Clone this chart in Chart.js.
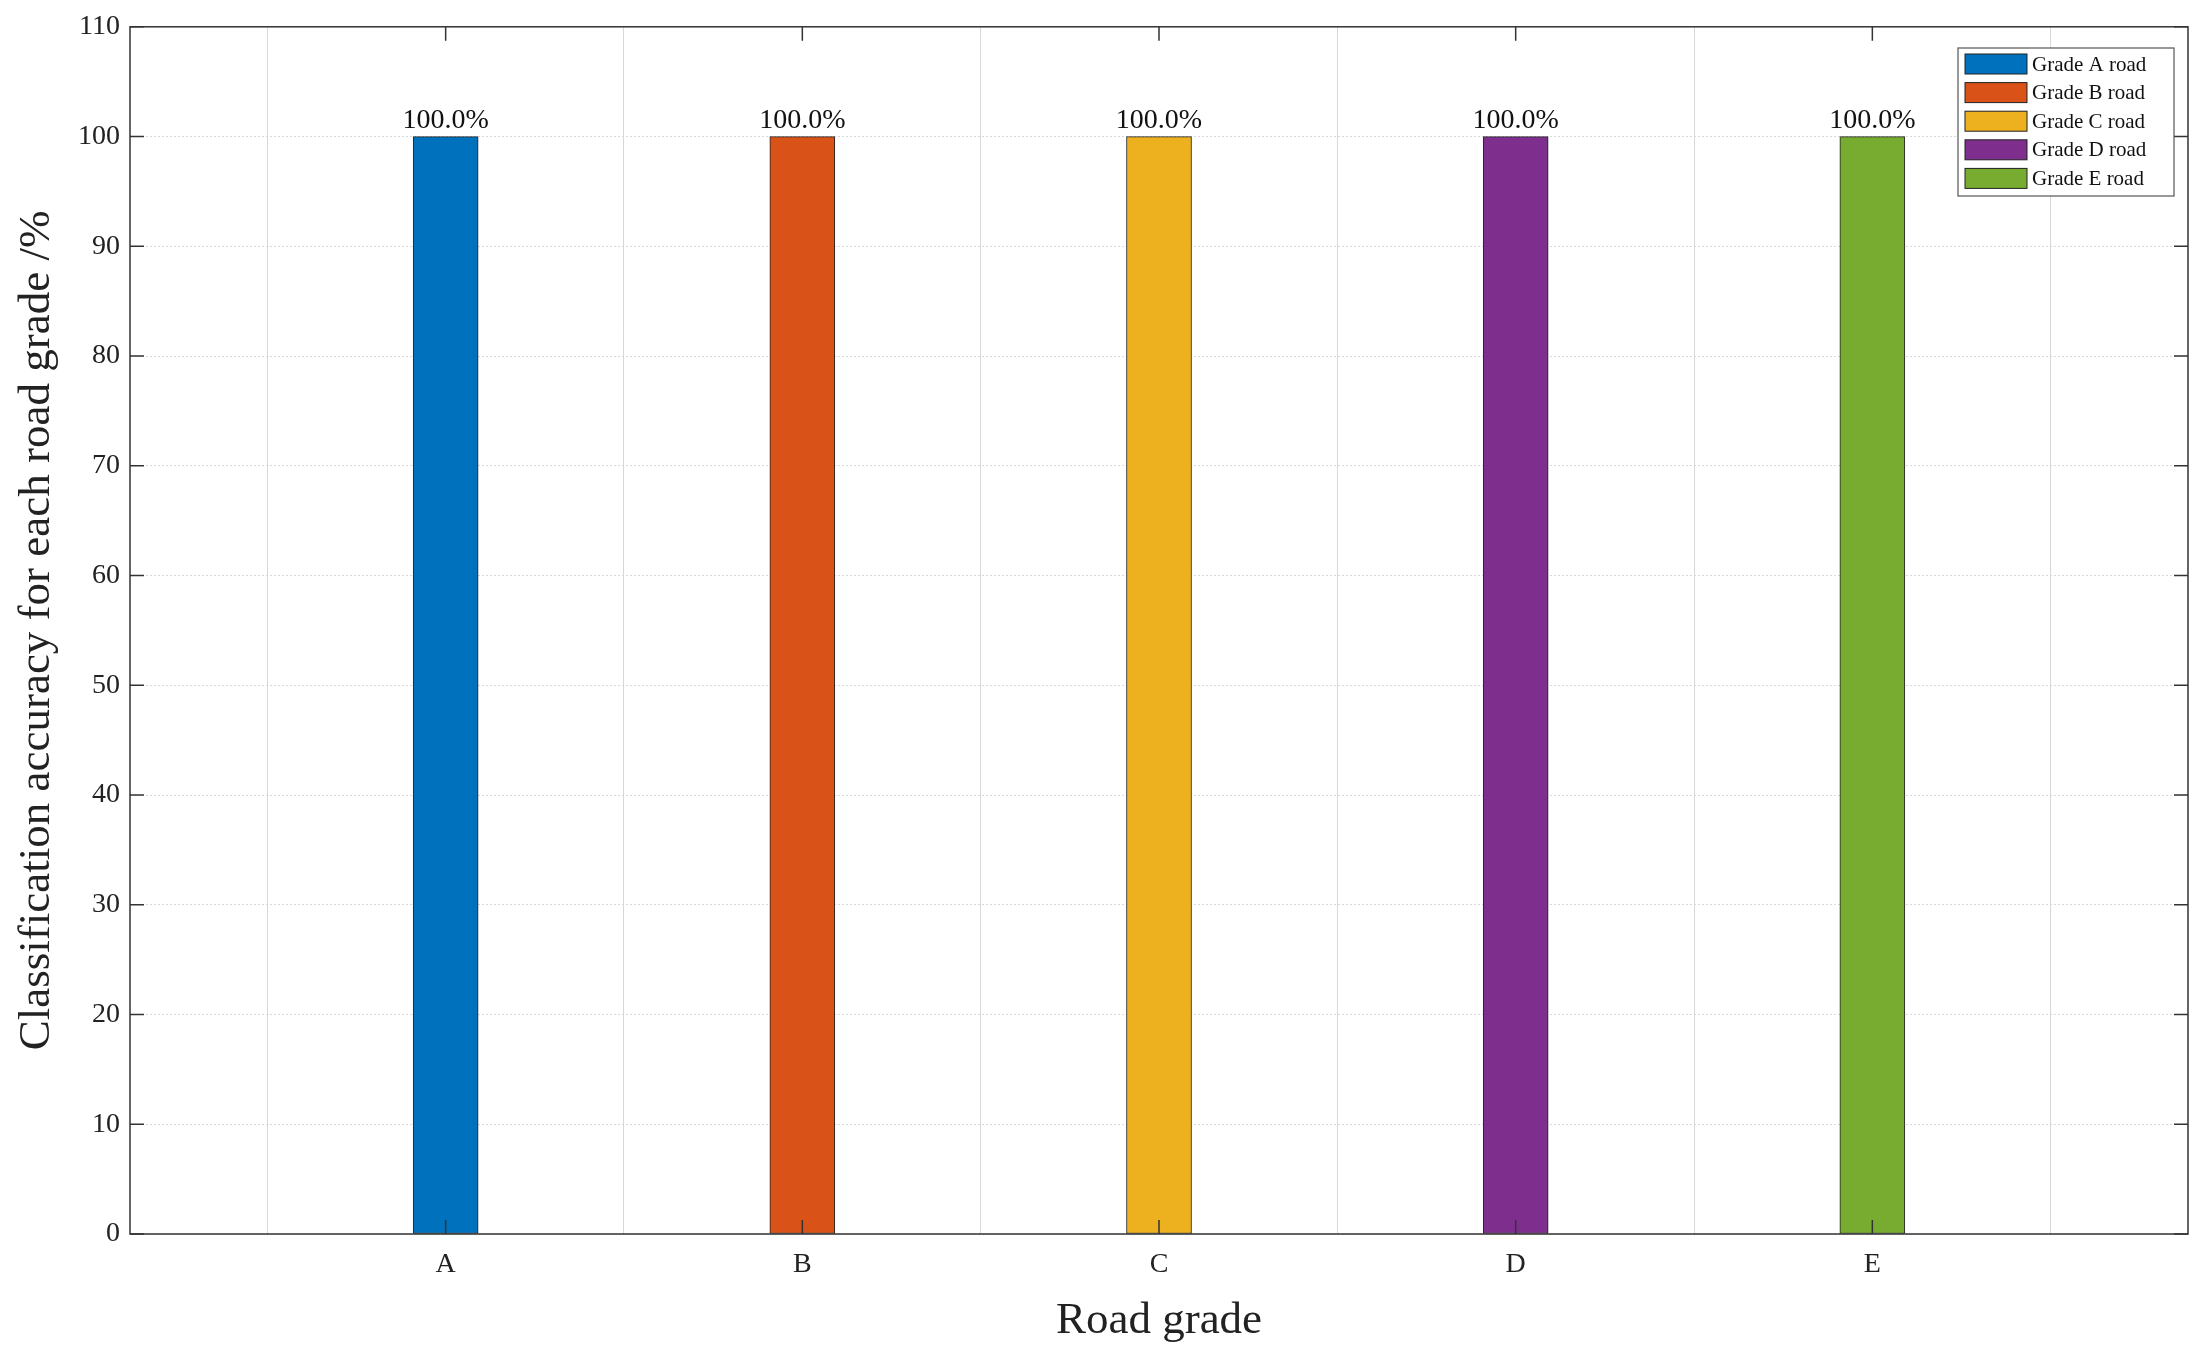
<!DOCTYPE html>
<html><head><meta charset="utf-8">
<script src="https://cdn.jsdelivr.net/npm/chart.js@4"></script>
<style>html,body{margin:0;padding:0;background:#fff}#wrap{width:2202px;height:1352px}</style>
</head><body><div id="wrap"><canvas id="c"></canvas></div>
<script>
const categories = ['A','B','C','D','E'];
const seriesNames = ['Grade A road','Grade B road','Grade C road','Grade D road','Grade E road'];
const accuracy = [100,100,100,100,100];
const colors = ['#0072BD','#D95319','#EDB120','#7E2F8E','#77AC30'];
const yTicks = [0,10,20,30,40,50,60,70,80,90,100,110];

const FONT = "'Liberation Serif','Times New Roman',serif";
const datasets = seriesNames.map((n,i)=>({
  label:n, data:[{x:i,y:accuracy[i]}], backgroundColor:colors[i],
  borderColor:'#222', borderWidth:1, borderSkipped:false, barThickness:65, grouped:false
}));

const deco = {
  id:'deco',
  afterDraw(chart){
    const {ctx, chartArea:a, scales:{x,y}} = chart;
    ctx.save();
    ctx.strokeStyle='#333'; ctx.lineWidth=1.5;
    ctx.strokeRect(a.left,a.top,a.right-a.left,a.bottom-a.top);
    ctx.beginPath();
    yTicks.forEach(v=>{const py=y.getPixelForValue(v);
      ctx.moveTo(a.left,py);ctx.lineTo(a.left+14,py);
      ctx.moveTo(a.right,py);ctx.lineTo(a.right-14,py);});
    categories.forEach((c,i)=>{const px=x.getPixelForValue(i);
      ctx.moveTo(px,a.bottom);ctx.lineTo(px,a.bottom-14);
      ctx.moveTo(px,a.top);ctx.lineTo(px,a.top+14);});
    ctx.stroke();
    // value labels
    ctx.fillStyle='#111'; ctx.font='28px '+FONT; ctx.textAlign='center'; ctx.textBaseline='bottom';
    chart.data.datasets.forEach((ds,i)=>{
      const el=chart.getDatasetMeta(i).data[0];
      ctx.fillText(ds.data[0].y.toFixed(1)+'%', el.x, el.y-2);
    });
    // legend
    const lx=1958, ly=48, lw=216, lh=148;
    ctx.fillStyle='#fff'; ctx.fillRect(lx,ly,lw,lh);
    ctx.strokeStyle='#555'; ctx.lineWidth=1.2; ctx.strokeRect(lx,ly,lw,lh);
    ctx.font='21px '+FONT; ctx.textAlign='left'; ctx.textBaseline='middle';
    chart.data.datasets.forEach((ds,i)=>{
      const ry=ly+16+i*28.6;
      ctx.fillStyle=ds.backgroundColor; ctx.fillRect(lx+7,ry-10,62,20);
      ctx.strokeStyle='#222'; ctx.lineWidth=1; ctx.strokeRect(lx+7,ry-10,62,20);
      ctx.fillStyle='#111'; ctx.fillText(ds.label,lx+74,ry+1);
    });
    ctx.restore();
  }
};

new Chart(document.getElementById('c'),{
  type:'bar',
  data:{datasets},
  options:{
    responsive:true, maintainAspectRatio:false, animation:false,
    layout:{padding:{left:10,right:14,top:16,bottom:0}},
    plugins:{legend:{display:false},tooltip:{enabled:false}},
    scales:{
      x:{type:'linear', min:-0.885, max:4.885, offset:false,
        afterBuildTicks(s){s.ticks=categories.map((c,i)=>({value:i}));},
        afterFit(s){s.height=118;},
        ticks:{callback:(v)=>categories[v], color:'#222', font:{family:FONT,size:28}, padding:14, autoSkip:false, maxRotation:0},
        grid:{color:'#d8d8d8', lineWidth:1, drawTicks:false, borderDash:[2,2]},
        border:{display:false},
        title:{display:true,text:'Road grade',color:'#222',font:{family:FONT,size:45},padding:{top:0,bottom:4}}
      },
      y:{min:0,max:110,
        afterBuildTicks(s){s.ticks=yTicks.map(v=>({value:v}));},
        afterFit(s){s.width=120;},
        ticks:{color:'#222', font:{family:FONT,size:28}, padding:10},
        grid:{color:'#d8d8d8', lineWidth:1, drawTicks:false},
        border:{display:false, dash:[2,2]},
        title:{display:true,text:'Classification accuracy for each road grade /%',color:'#222',font:{family:FONT,size:45},padding:{top:0,bottom:4}}
      }
    }
  },
  plugins:[deco]
});
</script></body></html>
